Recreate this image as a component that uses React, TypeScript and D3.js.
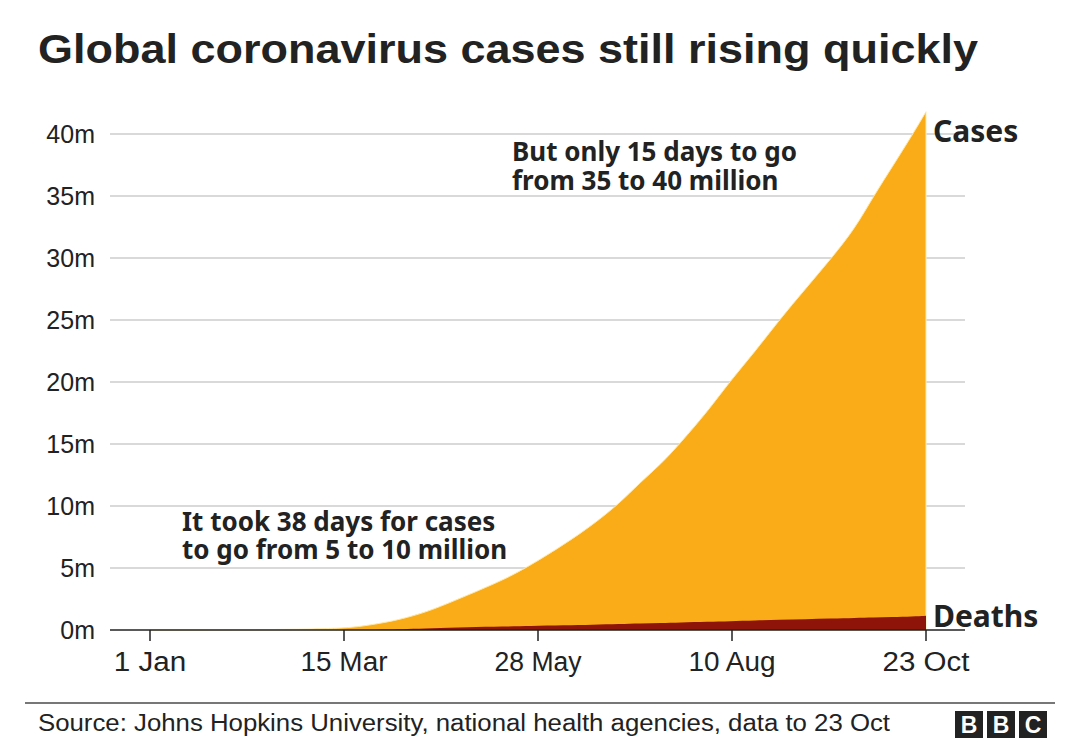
import React from "react";
import * as d3 from "d3";

const dates = [
  "2020-01-01","2020-01-22","2020-02-15","2020-03-01","2020-03-15","2020-03-22","2020-04-01",
  "2020-04-08","2020-04-17","2020-05-01","2020-05-15","2020-05-25","2020-06-07","2020-06-18",
  "2020-06-28","2020-07-06","2020-07-14","2020-07-21","2020-08-01","2020-08-09","2020-08-19",
  "2020-08-28","2020-09-07","2020-09-17","2020-09-26","2020-10-03","2020-10-10","2020-10-18",
  "2020-10-23"
];
const cases = [
  0,0,0.03,0.07,0.15,0.3,0.65,
  1.0,1.55,2.8,4.05,5.2,6.9,8.5,
  10.2,11.9,13.4,15.0,17.7,20.0,22.5,
  25.0,27.5,30.0,32.4,35.0,37.3,40.0,
  41.8
];
const deaths = [
  0,0,0.001,0.003,0.006,0.013,0.04,
  0.08,0.14,0.22,0.28,0.32,0.38,0.43,
  0.48,0.52,0.56,0.6,0.66,0.71,0.77,
  0.82,0.87,0.92,0.97,1.0,1.05,1.1,
  1.14
];
const yTicks = [0,5,10,15,20,25,30,35,40];
const xTickDates = ["2020-01-01","2020-03-15","2020-05-28","2020-08-10","2020-10-23"];
const xTickLabels = ["1 Jan","15 Mar","28 May","10 Aug","23 Oct"];

const title = "Global coronavirus cases still rising quickly";
const source = "Source: Johns Hopkins University, national health agencies, data to 23 Oct";
const note1 = ["But only 15 days to go", "from 35 to 40 million"];
const note2 = ["It took 38 days for cases", "to go from 5 to 10 million"];

const parse = (s: string) => new Date(s + "T00:00:00Z");

export default function App() {
  const W = 1080, H = 755;
  const x = d3.scaleUtc().domain([parse("2020-01-01"), parse("2020-10-23")]).range([150, 926]);
  const y = d3.scaleLinear().domain([0, 40]).range([630, 134]);
  const rows = dates.map((d, i) => ({ d: parse(d), c: cases[i], k: deaths[i] }));
  const areaC = d3.area<any>().x(r => x(r.d)).y0(y(0)).y1(r => y(r.c)).curve(d3.curveBasis);
  const areaD = d3.area<any>().x(r => x(r.d)).y0(y(0)).y1(r => y(r.k)).curve(d3.curveBasis);
  const gx0 = 110, gx1 = 965;
  const sans = "'Liberation Sans', Arial, Helvetica, sans-serif";
  const reith = "'Noto Sans', 'Open Sans', sans-serif";
  return (
    <svg width={W} height={H} style={{ position: "absolute", left: 0, top: 0, background: "#fff" }}>
      <rect width={W} height={H} fill="#fff" />
      <text x={38} y={63} fontFamily={sans} fontWeight={700} fontSize={41} fill="#222"
        textLength={940} lengthAdjust="spacingAndGlyphs">{title}</text>
      {yTicks.filter(t => t > 0).map(t => (
        <line key={t} x1={gx0} x2={gx1} y1={y(t)} y2={y(t)} stroke="#cccccc" strokeWidth={1.3} />
      ))}
      {yTicks.map(t => (
        <text key={"l" + t} x={95} y={y(t) + 9} textAnchor="end" fontFamily={sans} fontSize={25} fill="#222">{t}m</text>
      ))}
      <path d={areaC(rows) || ""} fill="#FAAB18" stroke="#FFE9A8" strokeWidth={1} />
      <path d={areaD(rows) || ""} fill="#8E1308" />
      <line x1={gx0} x2={gx1} y1={y(0)} y2={y(0)} stroke="#222" strokeWidth={1.5} />
      {xTickDates.map((d, i) => (
        <g key={d}>
          <line x1={x(parse(d))} x2={x(parse(d))} y1={y(0)} y2={y(0) + 11} stroke="#222" strokeWidth={1.5} />
          <text x={x(parse(d))} y={671} textAnchor="middle" fontFamily={sans} fontSize={27} fill="#222"
            textLength={xTickLabels[i].length * 14.5} lengthAdjust="spacingAndGlyphs">{xTickLabels[i]}</text>
        </g>
      ))}
      <text x={933} y={142} fontFamily={reith} fontWeight={700} fontSize={30} fill="#222">Cases</text>
      <text x={933} y={627} fontFamily={reith} fontWeight={700} fontSize={30} fill="#222">Deaths</text>
      <text fontFamily={reith} fontWeight={700} fontSize={26} fill="#222">
        {note1.map((t, i) => (
          <tspan key={t} x={512} y={161 + i * 29}>{t}</tspan>
        ))}
      </text>
      <text fontFamily={reith} fontWeight={700} fontSize={26} fill="#222">
        {note2.map((t, i) => (
          <tspan key={t} x={182} y={531 + i * 28}>{t}</tspan>
        ))}
      </text>
      <line x1={25} x2={1055} y1={703} y2={703} stroke="#777" strokeWidth={2} />
      <text x={38} y={731} fontFamily={sans} fontSize={23} fill="#222" textLength={852} lengthAdjust="spacingAndGlyphs">{source}</text>
      {["B", "B", "C"].map((c, i) => (
        <g key={i}>
          <rect x={955 + i * 32} y={711} width={28} height={27} fill="#222" />
          <text x={969 + i * 32} y={733} textAnchor="middle" fontFamily={sans} fontWeight={700} fontSize={23} fill="#fff">{c}</text>
        </g>
      ))}
    </svg>
  );
}
